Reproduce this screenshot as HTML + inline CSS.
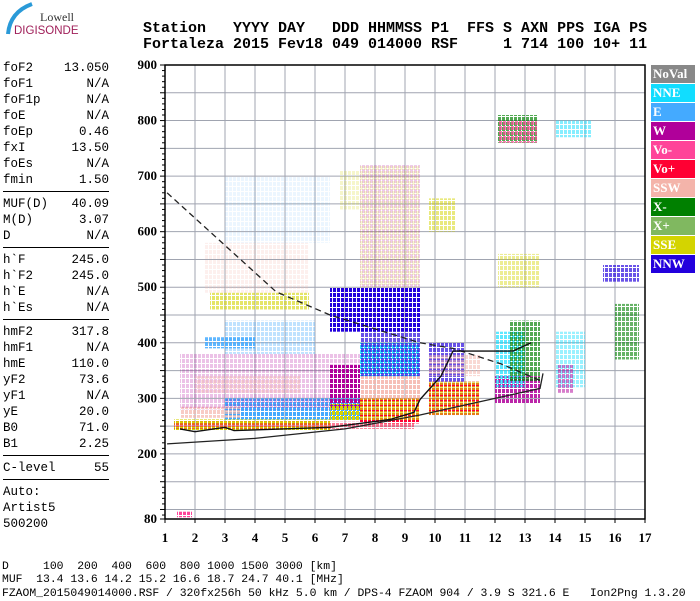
<!DOCTYPE html>
<html><head><meta charset="utf-8">
<style>
body{margin:0;background:#fff;width:700px;height:600px;overflow:hidden;position:relative;font-family:"Liberation Mono",monospace}
.hdr{position:absolute;left:143px;font:bold 15px "Liberation Mono",monospace;white-space:pre;line-height:16px;color:#000}
.lp{position:absolute;left:3px;width:106px;font:12.5px "Liberation Mono",monospace;color:#000}
.lp div{height:16px;line-height:16px;display:flex;justify-content:space-between}
.lp hr{border:0;border-top:1px solid #000;margin:3px 0 4px 0}
.bt{position:absolute;left:2px;font:11.4px "Liberation Mono",monospace;white-space:pre;line-height:13px}
.leg{position:absolute;left:651px;width:44px;height:18px;font:bold 13px "Liberation Serif",serif;color:#fff;line-height:18px;padding-left:2px;box-sizing:border-box}
</style></head><body>
<svg style="position:absolute;left:0;top:0" width="110" height="45">
<path d="M8 34 Q10 12 32 4" stroke="#2a9ad8" stroke-width="4" fill="none"/>
<text x="40" y="21" font-family="Liberation Serif,serif" font-size="12" fill="#333">Lowell</text>
<text x="14" y="34" font-family="Liberation Sans,sans-serif" font-size="11.5" fill="#a0205a">DIGISONDE</text>
</svg>
<div class="hdr" style="top:21px">Station   YYYY DAY   DDD HHMMSS P1  FFS S AXN PPS IGA PS</div>
<div class="hdr" style="top:37px">Fortaleza 2015 Fev18 049 014000 RSF     1 714 100 10+ 11</div>

<div class="lp" style="top:60px">
<div><span>foF2</span><span>13.050</span></div><div><span>foF1</span><span>N/A</span></div><div><span>foF1p</span><span>N/A</span></div><div><span>foE</span><span>N/A</span></div><div><span>foEp</span><span>0.46</span></div><div><span>fxI</span><span>13.50</span></div><div><span>foEs</span><span>N/A</span></div><div><span>fmin</span><span>1.50</span></div>
<hr><div><span>MUF(D)</span><span>40.09</span></div><div><span>M(D)</span><span>3.07</span></div><div><span>D</span><span>N/A</span></div>
<hr><div><span>h`F</span><span>245.0</span></div><div><span>h`F2</span><span>245.0</span></div><div><span>h`E</span><span>N/A</span></div><div><span>h`Es</span><span>N/A</span></div>
<hr><div><span>hmF2</span><span>317.8</span></div><div><span>hmF1</span><span>N/A</span></div><div><span>hmE</span><span>110.0</span></div><div><span>yF2</span><span>73.6</span></div><div><span>yF1</span><span>N/A</span></div><div><span>yE</span><span>20.0</span></div><div><span>B0</span><span>71.0</span></div><div><span>B1</span><span>2.25</span></div>
<hr><div><span>C-level</span><span>55</span></div>
<hr><div><span>Auto:</span></div><div><span>Artist5</span></div><div><span>500200</span></div>
</div>

<svg id="chart" style="position:absolute;left:0;top:0" width="700" height="600"></svg>

<div class="leg" style="top:65px;background:#888">NoVal</div>
<div class="leg" style="top:84px;background:#11ddff">NNE</div>
<div class="leg" style="top:103px;background:#44aaff">E</div>
<div class="leg" style="top:122px;background:#b0009a">W</div>
<div class="leg" style="top:141px;background:#ff4499">Vo-</div>
<div class="leg" style="top:160px;background:#ff0033">Vo+</div>
<div class="leg" style="top:179px;background:#f4b4aa">SSW</div>
<div class="leg" style="top:198px;background:#008000">X-</div>
<div class="leg" style="top:217px;background:#80b860">X+</div>
<div class="leg" style="top:236px;background:#d4d400">SSE</div>
<div class="leg" style="top:255px;background:#2200dd">NNW</div>

<div class="bt" style="top:561px">D     100  200  400  600  800 1000 1500 3000 [km]</div>
<div class="bt" style="top:574px">MUF  13.4 13.6 14.2 15.2 16.6 18.7 24.7 40.1 [MHz]</div>
<div class="bt" style="top:588px">FZAOM_2015049014000.RSF / 320fx256h 50 kHz 5.0 km / DPS-4 FZAOM 904 / 3.9 S 321.6 E   Ion2Png 1.3.20</div>

<script>
const xTicks=[1,2,3,4,5,6,7,8,9,10,11,12,13,14,15,16,17];
const yTicks=[900,800,700,600,500,400,300,200];
const colors={NNE:'#11ddff',E:'#44aaff',W:'#b0009a','Vo-':'#ff4499','Vo+':'#ff0033',SSW:'#f4b4aa','X-':'#008000','X+':'#80b860',SSE:'#d4d400',NNW:'#2200dd'};
const blobFreqLo=[1.3,1.3,3.0,1.5,1.5,2.0,2.3,3.0,2.5,2.3,3.0,6.5,6.5,6.5,6.8,7.5,7.5,7.5,7.5,7.5,7.5,7.5,7.5,9.8,9.8,9.8,9.8,9.8,12.0,12.0,12.5,12.1,12.1,12.1,14.0,14.1,14.0,15.6,16.0,1.4];
const blobFreqHi=[6.5,9.3,7.5,3.5,7.5,5.5,4.0,6.0,5.8,5.8,6.5,7.5,7.5,7.5,7.5,9.5,9.5,9.5,9.5,9.5,9.5,9.5,9.5,11.5,11.5,11.0,11.5,10.7,13.5,13.0,13.5,13.5,13.4,13.4,15.0,14.6,15.2,16.8,16.8,1.9];
const blobHLo=[242,245,262,265,280,310,390,380,460,490,580,280,260,420,640,255,260,300,340,340,420,500,500,270,270,330,340,600,290,320,330,500,760,760,320,310,770,510,370,86];
const blobHHi=[262,258,300,285,380,340,410,440,490,580,700,360,290,500,710,300,300,340,400,420,500,720,720,330,330,400,380,660,340,420,440,560,810,800,420,360,800,540,470,96];
const blobColor=['SSE','Vo+','E','SSW','W','SSW','E','E','SSE','SSW','E','W','SSE','NNW','SSE','Vo+','SSE','SSW','NNE','NNW','NNW','W','SSE','Vo+','SSE','NNW','SSW','SSE','W','NNE','X-','SSE','X-','Vo-','NNE','W','NNE','NNW','X-','Vo-'];
const blobDensity=[0.8,0.3,0.6,0.4,0.14,0.25,0.5,0.2,0.35,0.12,0.06,0.6,0.6,0.6,0.12,0.6,0.4,0.5,0.5,0.4,0.6,0.12,0.1,0.6,0.35,0.4,0.3,0.3,0.5,0.4,0.4,0.25,0.4,0.4,0.25,0.3,0.3,0.4,0.35,0.6];
const dashF=[1.07,4.7,6.5,9.5,10.6,12.2,13.6];
const dashH=[670,492,450,400,390,362,330];
const lowF=[1.07,4,7,9.5,12,13.5,13.6];
const lowH=[218,228,245,270,300,318,345];
const traceF=[1.5,2,3,3.3,6.5,7.5,8.5,9.3,9.5,10.2,10.6,12.6,13.2];
const traceH=[245,240,248,242,248,255,262,275,298,340,385,385,400];

const X=f=>165+(f-1)*30;
const Y=h=>65+(900-h)*0.5556;
const NS='http://www.w3.org/2000/svg';
const svg=document.getElementById('chart');
function mk(t,a,p){const e=document.createElementNS(NS,t);for(const k in a)e.setAttribute(k,a[k]);(p||svg).appendChild(e);return e;}

const defs=mk('defs',{});
Object.keys(colors).forEach((k,i)=>{
  const p=mk('pattern',{id:'p'+i,width:4,height:5,patternUnits:'userSpaceOnUse',x:i,y:i*2},defs);
  mk('rect',{x:0,y:0,width:3,height:4,fill:colors[k]},p);
});
const keys=Object.keys(colors);

for(let h=100;h<=850;h+=50){const g=mk('line',{x1:165,x2:645,y1:Y(h),y2:Y(h),stroke:'#a0a4b0','stroke-width':1});

}
xTicks.forEach(f=>{if(f>1&&f<17){const g=mk('line',{x1:X(f),x2:X(f),y1:65,y2:519,stroke:'#a0a4b0','stroke-width':1});

}});

blobFreqLo.forEach((f0,i)=>{
  const r=mk('rect',{x:X(f0),y:Y(blobHHi[i]),width:X(blobFreqHi[i])-X(f0),height:Y(blobHLo[i])-Y(blobHHi[i]),fill:'url(#p'+keys.indexOf(blobColor[i])+')',opacity:Math.min(1,blobDensity[i]*1.7)});
  
  
});

function line(F,H,attrs,name){const d=F.map((f,i)=>(i?'L':'M')+X(f).toFixed(1)+' '+Y(H[i]).toFixed(1)).join(' ');
const p=mk('path',Object.assign({d:d,fill:'none'},attrs));

}
line(dashF,dashH,{stroke:'#222','stroke-width':1.3,'stroke-dasharray':'6 4'},'dashed-profile-curve');
line(lowF,lowH,{stroke:'#222','stroke-width':1.3},'lower-profile-curve');
line(traceF,traceH,{stroke:'#111','stroke-width':1.4},'trace-line');

const fr=mk('rect',{x:165,y:65,width:480,height:454,fill:'none',stroke:'#000','stroke-width':1.5});


for(let h=90;h<=900;h+=10){const len=(h%50===0)?5:3;mk('line',{x1:165-len,x2:165,y1:Y(h),y2:Y(h),stroke:'#000'});}
mk('line',{x1:160,x2:165,y1:519,y2:519,stroke:'#000'});
yTicks.forEach(h=>{const t=mk('text',{x:157,y:Y(h)+4,'text-anchor':'end','font-family':'Liberation Serif,serif','font-weight':'bold','font-size':13});t.textContent=h;

});
const t80=mk('text',{x:157,y:523,'text-anchor':'end','font-family':'Liberation Serif,serif','font-weight':'bold','font-size':13});t80.textContent='80';


xTicks.forEach(f=>{mk('line',{x1:X(f),x2:X(f),y1:519,y2:523,stroke:'#000'});
const t=mk('text',{x:X(f),y:542,'text-anchor':'middle','font-family':'Liberation Serif,serif','font-weight':'bold','font-size':13});t.textContent=f;

});
</script>
</body></html>
